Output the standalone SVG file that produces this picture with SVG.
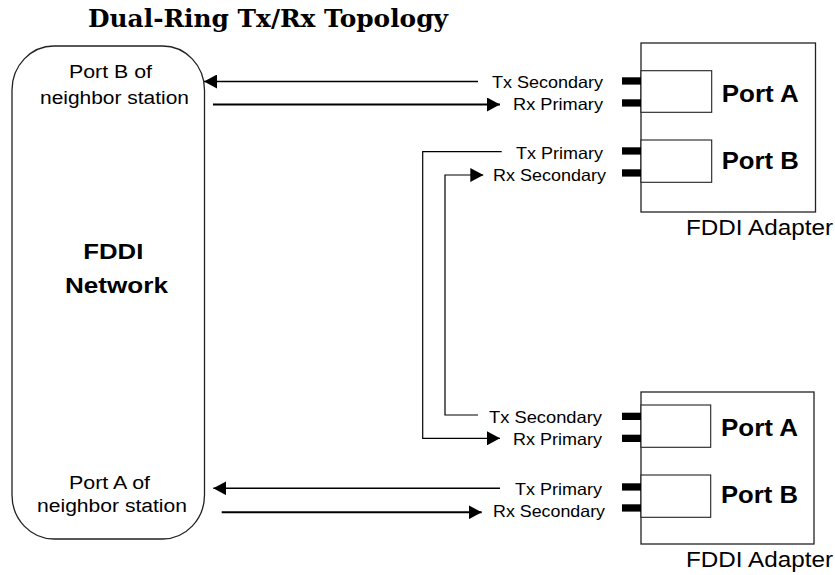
<svg xmlns="http://www.w3.org/2000/svg" width="835" height="575" viewBox="0 0 835 575">
  <defs>
    <style>
      .title { font-family: "DejaVu Serif", "Liberation Serif", serif; font-weight: bold; font-size: 24.5px; fill: #000; }
      .lbl { font-family: "Liberation Sans", Arial, sans-serif; font-size: 16.5px; fill: #000; }
      .nb { font-family: "Liberation Sans", Arial, sans-serif; font-size: 18px; fill: #000; }
      .port { font-family: "Liberation Sans", Arial, sans-serif; font-weight: bold; font-size: 24px; fill: #000; }
      .cap { font-family: "Liberation Sans", Arial, sans-serif; font-size: 22px; fill: #000; }
      .net { font-family: "Liberation Sans", Arial, sans-serif; font-weight: bold; font-size: 22.5px; fill: #000; }
      .box { fill: #fff; stroke: #222; stroke-width: 1.3; }
      .inner { fill: #fff; stroke: #222; stroke-width: 1.1; }
      .bar { fill: #000; }
      .wire { fill: none; stroke: #000; stroke-width: 1.5; }
    </style>
    <marker id="arrow" viewBox="0 0 13 14" refX="13" refY="7" markerWidth="13" markerHeight="14" markerUnits="userSpaceOnUse" orient="auto">
      <path d="M0,0 L13,7 L0,14 z" fill="#000"/>
    </marker>
  </defs>

  <rect width="835" height="575" fill="#fff"/>

  <text class="title" x="88" y="27" textLength="360" lengthAdjust="spacingAndGlyphs">Dual-Ring Tx/Rx Topology</text>

  <!-- FDDI network cloud -->
  <g id="fddi-network">
    <rect class="box" x="12" y="46" width="192.5" height="493" rx="42" ry="44"/>
    <text class="nb" x="69" y="77.5" textLength="83" lengthAdjust="spacingAndGlyphs">Port B of</text>
    <text class="nb" x="40" y="104" textLength="149" lengthAdjust="spacingAndGlyphs">neighbor station</text>
    <text class="net" x="83.3" y="259" textLength="60" lengthAdjust="spacingAndGlyphs">FDDI</text>
    <text class="net" x="65" y="293" textLength="103" lengthAdjust="spacingAndGlyphs">Network</text>
    <text class="nb" x="69" y="488.5" textLength="81" lengthAdjust="spacingAndGlyphs">Port A of</text>
    <text class="nb" x="37" y="511.5" textLength="150" lengthAdjust="spacingAndGlyphs">neighbor station</text>
  </g>

  <!-- Upper adapter -->
  <g id="adapter-1">
    <rect class="box" x="641" y="43" width="174.5" height="169"/>
    <rect class="inner" x="641" y="70.7" width="70.7" height="41.6"/>
    <rect class="inner" x="641" y="140" width="70.7" height="42.3"/>
    <rect class="bar" x="622" y="77.3" width="19" height="7.3"/>
    <rect class="bar" x="622" y="99.3" width="19" height="7.3"/>
    <rect class="bar" x="622" y="147.3" width="19" height="7.3"/>
    <rect class="bar" x="622" y="169.3" width="19" height="7.3"/>
    <text class="port" x="721.7" y="102" textLength="77" lengthAdjust="spacingAndGlyphs">Port A</text>
    <text class="port" x="721.7" y="169" textLength="77" lengthAdjust="spacingAndGlyphs">Port B</text>
    <text class="lbl" x="603" y="87.5" text-anchor="end" textLength="111" lengthAdjust="spacingAndGlyphs">Tx Secondary</text>
    <text class="lbl" x="603" y="110" text-anchor="end" textLength="90" lengthAdjust="spacingAndGlyphs">Rx Primary</text>
    <text class="lbl" x="603" y="159" text-anchor="end" textLength="87" lengthAdjust="spacingAndGlyphs">Tx Primary</text>
    <text class="lbl" x="606" y="181" text-anchor="end" textLength="113" lengthAdjust="spacingAndGlyphs">Rx Secondary</text>
    <text class="cap" x="686" y="235" textLength="147" lengthAdjust="spacingAndGlyphs">FDDI Adapter</text>
  </g>

  <!-- Lower adapter -->
  <g id="adapter-2">
    <rect class="box" x="641" y="392" width="173" height="152"/>
    <rect class="inner" x="641" y="405" width="69.7" height="42.3"/>
    <rect class="inner" x="641" y="475" width="69.7" height="42.3"/>
    <rect class="bar" x="622" y="412.7" width="19" height="7.3"/>
    <rect class="bar" x="622" y="434.7" width="19" height="7.3"/>
    <rect class="bar" x="622" y="483.3" width="19" height="7.3"/>
    <rect class="bar" x="622" y="504.3" width="19" height="7.3"/>
    <text class="port" x="721" y="436" textLength="77" lengthAdjust="spacingAndGlyphs">Port A</text>
    <text class="port" x="721" y="503" textLength="77" lengthAdjust="spacingAndGlyphs">Port B</text>
    <text class="lbl" x="602" y="423" text-anchor="end" textLength="113" lengthAdjust="spacingAndGlyphs">Tx Secondary</text>
    <text class="lbl" x="602" y="445" text-anchor="end" textLength="89" lengthAdjust="spacingAndGlyphs">Rx Primary</text>
    <text class="lbl" x="602" y="495" text-anchor="end" textLength="87" lengthAdjust="spacingAndGlyphs">Tx Primary</text>
    <text class="lbl" x="605" y="517" text-anchor="end" textLength="112" lengthAdjust="spacingAndGlyphs">Rx Secondary</text>
    <text class="cap" x="686" y="567" textLength="147" lengthAdjust="spacingAndGlyphs">FDDI Adapter</text>
  </g>

  <!-- Fibre connections -->
  <g id="connectors">
    <path class="wire" d="M478,81.5 H204" marker-end="url(#arrow)"/>
    <path class="wire" d="M213,104.5 H500" marker-end="url(#arrow)" style="stroke-width:2"/>
    <path class="wire" d="M501.7,151.7 H422.7 V438.3 H500" marker-end="url(#arrow)" style="stroke-width:1.2"/>
    <path class="wire" d="M478,415 H445 V175 H483.3" marker-end="url(#arrow)" style="stroke-width:1.2"/>
    <path class="wire" d="M500,488.3 H213.3" marker-end="url(#arrow)"/>
    <path class="wire" d="M221.7,512.3 H481.7" marker-end="url(#arrow)" style="stroke-width:2"/>
  </g>
</svg>
